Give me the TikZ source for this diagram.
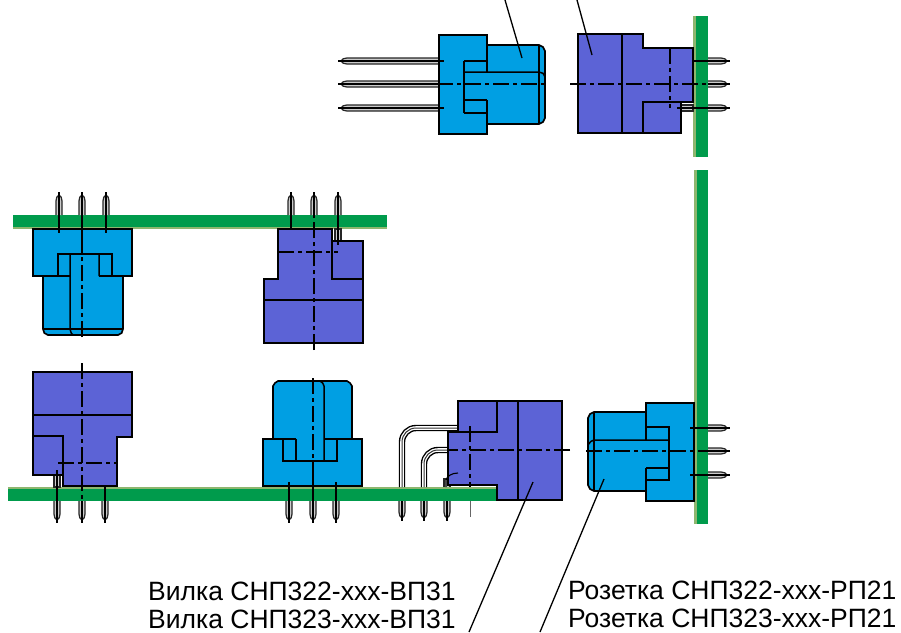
\documentclass[tikz,border=0pt]{standalone}
\usepackage{fontspec}
\setmainfont{Liberation Sans}
\definecolor{plugblue}{RGB}{0,159,227}
\definecolor{socketblue}{RGB}{92,99,214}
\definecolor{boardgreen}{RGB}{0,155,76}
\definecolor{boardedge}{RGB}{142,182,110}
\tikzset{
	plug/.style={draw=black, line width=1.6pt, fill=plugblue, line join=miter},
	socket/.style={draw=black, line width=1.7pt, fill=socketblue, line join=miter},
	edgeline/.style={draw=black, line width=1.5pt},
	axis/.style={draw=black, line width=1.2pt, dash pattern=on 16pt off 4pt on 4pt off 4pt},
	leader/.style={draw=black, line width=1.3pt},
	caption/.style={anchor=base west, inner sep=0pt, font=\fontsize{26.5}{30}\selectfont},
	pinline/.style={draw=black, line width=1.1pt},
	tube/.style={draw=black!85, line width=1.2pt, fill=black!20},
	bentpin/.style={draw=black, line width=6.4pt, rounded corners=14pt,
		postaction={draw=white, line width=3.6pt},
		postaction={draw=black!80, line width=1pt}},
	pics/contact/.style={code={
		\draw[tube] (0,-3) -- (#1,-3) .. controls ({#1+3},-3) and ({#1+5},-2) .. ({#1+6},0)
			.. controls ({#1+5},2) and ({#1+3},3) .. (#1,3) -- (0,3);
		\draw[pinline] (0,0) -- ({#1+9},0);
	}}
}
\begin{document}
\begin{tikzpicture}[x=1pt, y=-1pt]
	\useasboundingbox (0,0) rectangle (901,632);

%% Boards
	\fill[boardgreen] (693,16) rectangle (708,157);
	\fill[boardedge] (693,16) rectangle (696,157);
	\fill[boardgreen] (694,170) rectangle (708,524);
	\fill[boardedge] (694,170) rectangle (697,524);
	\fill[boardgreen] (13,215) rectangle (387,229);
	\fill[boardedge] (13,227) rectangle (387,229);
	\fill[boardgreen] (8,487) rectangle (497,501);
	\fill[boardedge] (8,487) rectangle (497,489);

%% Top plug
	\foreach \y in {61,84,108}
		\path (439,\y) pic[rotate=180] {contact=92};
	\path[plug] (487,72) -- (487,45) -- (539,45) -- (543,47) -- (545,51) -- (545,118) -- (543,122) -- (539,124) -- (487,124) -- (487,100);
	\path[fill=plugblue] (439,35) rectangle (487,134);
	\path[edgeline] (487,72) -- (487,35) -- (439,35) -- (439,134) -- (487,134) -- (487,100);
	\path[edgeline] (539,45) -- (539,124);
	\path[edgeline] (464,61) -- (487,61);
	\path[edgeline] (464,72) -- (539,72) .. controls (542,72) and (545,74) .. (545,77);
	\path[edgeline] (487,100) -- (464,100) (464,113) -- (487,113);
	\path[edgeline] (464,61) -- (464,113);
	\path[axis] (437,84) -- (548,84);
	\path[pinline] (439,61) -- (444,61) (439,108) -- (444,108);

%% Top socket
	\foreach \y in {61,84,108}
		\path (708,\y) pic {contact=13};
	\path[tube] (681,105) rectangle (693,111);
	\path[socket] (578,34) -- (643,34) -- (643,48) -- (693,48) -- (693,102) -- (681,102) -- (681,133) -- (578,133) -- cycle;
	\path[edgeline] (622,34) -- (622,133);
	\path[edgeline] (643,133) -- (643,102) -- (693,102);
	\path[axis] (670,48) -- (670,108);
	\path[axis] (570,84) -- (708,84);
	\path[pinline] (693,61) -- (708,61) (677,108) -- (708,108);

%% Upper left plug
	\foreach \x in {59,82,106}
		\path (\x,215) pic[rotate=90] {contact=14};
	\path[plug] (43,277) -- (43,329) .. controls (43,332) and (45,335) .. (48,335) -- (118,335) .. controls (121,335) and (123,332) .. (123,329) -- (123,277);
	\path[fill=plugblue] (33,229) rectangle (132,277);
	\path[edgeline] (70,276) -- (33,276) -- (33,229) -- (132,229) -- (132,276) -- (99,276);
	\path[edgeline] (43,329) -- (123,329);
	\path[edgeline] (58,276) -- (58,254) -- (112,254) -- (112,276);
	\path[edgeline] (70,254) -- (70,329) .. controls (70,332) and (72,335) .. (74,335) (99,254) -- (99,276);
	\path[axis] (82,337) -- (82,215);
	\path[pinline] (59,215) -- (59,233) (82,215) -- (82,254) (106,215) -- (106,233);

%% Upper middle socket
	\foreach \x in {291,314,338}
		\path (\x,215) pic[rotate=90] {contact=14};
	\path[tube] (335,229) rectangle (341,241);
	\path[socket] (278,229) -- (332,229) -- (332,241) -- (363,241) -- (363,343) -- (264,343) -- (264,279) -- (278,279) -- cycle;
	\path[edgeline] (332,241) -- (332,279) -- (363,279);
	\path[edgeline] (264,300) -- (363,300);
	\path[axis] (278,252) -- (338,252);
	\path[axis] (314,350) -- (314,215);
	\path[pinline] (291,215) -- (291,229) (338,215) -- (338,245);

%% Lower left socket
	\foreach \x in {57,82,105}
		\path (\x,501) pic[rotate=-90] {contact=13};
	\path[tube] (54,475) rectangle (60,487);
	\path[socket] (33,372) -- (132,372) -- (132,437) -- (117,437) -- (117,486) -- (63,486) -- (63,475) -- (33,475) -- cycle;
	\path[edgeline] (33,415) -- (132,415);
	\path[edgeline] (33,436) -- (63,436) -- (63,486);
	\path[axis] (58,463) -- (117,463);
	\path[axis] (82,363) -- (82,501);
	\path[pinline] (57,470) -- (57,501) (105,486) -- (105,501);

%% Lower middle plug
	\foreach \x in {289,313,336}
		\path (\x,501) pic[rotate=-90] {contact=13};
	\path[plug] (273,439) -- (273,386) -- (275,383) -- (278,381) -- (347,381) -- (350,383) -- (352,386) -- (352,439);
	\path[fill=plugblue] (263,439) rectangle (362,486);
	\path[edgeline] (296,439) -- (263,439) -- (263,486) -- (362,486) -- (362,439) -- (324,439);
	\path[edgeline] (296,439) -- (296,461);
	\path[edgeline] (283,439) -- (283,461) -- (337,461) -- (337,439);
	\path[edgeline] (324,461) -- (324,386) .. controls (324,384) and (322,382) .. (320,381);
	\path[axis] (313,378) -- (313,501);
	\path[pinline] (289,482) -- (289,501) (336,482) -- (336,501) (313,461) -- (313,501);

%% Angled socket
	\foreach \x in {402,424,447}
		\path (\x,501) pic[rotate=-90] {contact=11};
	\path[bentpin] (402,487) -- (402,428) -- (458,428);
	\path[bentpin] (424,487) -- (424,450) -- (448,450);
	\path[tube] (444,487) -- (444,479) -- (450,479) -- (450,487);
	\path[socket] (458,401) -- (562,401) -- (562,500) -- (497,500) -- (497,485) -- (448,485) -- (448,432) -- (458,432) -- cycle;
	\path[edgeline] (458,432) -- (497,432) -- (497,401);
	\path[edgeline] (518,401) -- (518,500);
	\path[pinline] (446,487) -- (446,480) .. controls (447,476) and (452,473) .. (458,473);
	\path[axis] (570,450) -- (448,450);
	\path[axis] (470,426) -- (470,487);
	\path[draw=black!60, line width=.8pt] (470,501) -- (470,517);

%% Right plug
	\foreach \y in {428,451,475}
		\path (708,\y) pic {contact=13};
	\path[plug] (646,412) -- (594,412) -- (590,414) -- (588,418) -- (588,485) -- (590,489) -- (594,491) -- (646,491);
	\path[fill=plugblue] (646,403) rectangle (694,501);
	\path[edgeline] (646,440) -- (646,403) -- (694,403) -- (694,501) -- (646,501) -- (646,468);
	\path[edgeline] (594,412) -- (594,491);
	\path[edgeline] (588,445) .. controls (590,442) and (592,440) .. (594,440) -- (669,440);
	\path[edgeline] (646,427) -- (669,427) -- (669,480) -- (646,480);
	\path[edgeline] (646,468) -- (669,468);
	\path[axis] (586,451) -- (708,451);
	\path[pinline] (690,428) -- (708,428) (690,475) -- (708,475);

%% Leaders
	\coordinate (plugtop) at (505,0);
	\coordinate (plugend) at (522,58);
	\coordinate (sockettop) at (577,0);
	\coordinate (socketend) at (592,55);
	\coordinate (anglefoot) at (469,632);
	\coordinate (angleend) at (533,482);
	\coordinate (rightfoot) at (540,632);
	\coordinate (rightend) at (604,479);
	\draw[leader] (plugtop) -- (plugend);
	\draw[leader] (sockettop) -- (socketend);
	\draw[leader] (anglefoot) -- (angleend);
	\draw[leader] (rightfoot) -- (rightend);

%% Labels
	\node[caption] (vilka322) at (148,600) {Вилка СНП322-xxx-ВП31};
	\node[caption] (vilka323) at (148,628) {Вилка СНП323-xxx-ВП31};
	\node[caption] (rozetka322) at (568,599) {Розетка СНП322-xxx-РП21};
	\node[caption] (rozetka323) at (568,627) {Розетка СНП323-xxx-РП21};
\end{tikzpicture}
\end{document}
